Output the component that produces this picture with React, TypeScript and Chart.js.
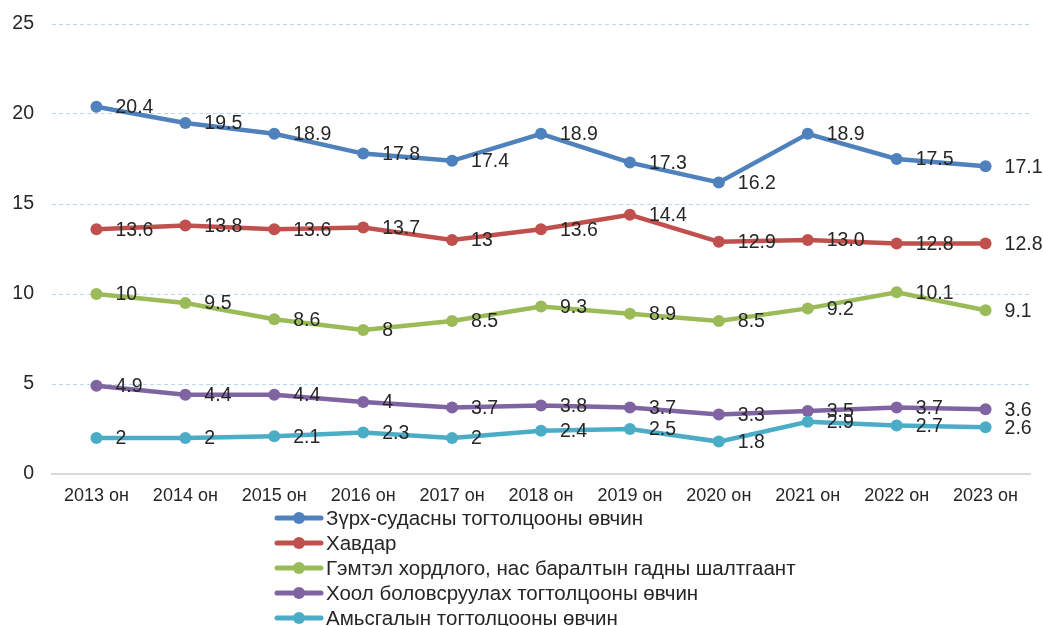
import React, { useEffect, useRef } from "react";
import { Chart, registerables } from "chart.js";

Chart.register(...registerables);

const categories = ["2013 он", "2014 он", "2015 он", "2016 он", "2017 он", "2018 он", "2019 он", "2020 он", "2021 он", "2022 он", "2023 он"];

const seriesNames = [
  "Зүрх-судасны тогтолцооны өвчин",
  "Хавдар",
  "Гэмтэл хордлого, нас баралтын гадны шалтгаант",
  "Хоол боловсруулах тогтолцооны өвчин",
  "Амьсгалын тогтолцооны өвчин",
];

const heartValues = [20.4, 19.5, 18.9, 17.8, 17.4, 18.9, 17.3, 16.2, 18.9, 17.5, 17.1];
const cancerValues = [13.6, 13.8, 13.6, 13.7, 13, 13.6, 14.4, 12.9, 13.0, 12.8, 12.8];
const injuryValues = [10, 9.5, 8.6, 8, 8.5, 9.3, 8.9, 8.5, 9.2, 10.1, 9.1];
const digestiveValues = [4.9, 4.4, 4.4, 4, 3.7, 3.8, 3.7, 3.3, 3.5, 3.7, 3.6];
const respiratoryValues = [2, 2, 2.1, 2.3, 2, 2.4, 2.5, 1.8, 2.9, 2.7, 2.6];

const heartLabels = ["20.4", "19.5", "18.9", "17.8", "17.4", "18.9", "17.3", "16.2", "18.9", "17.5", "17.1"];
const cancerLabels = ["13.6", "13.8", "13.6", "13.7", "13", "13.6", "14.4", "12.9", "13.0", "12.8", "12.8"];
const injuryLabels = ["10", "9.5", "8.6", "8", "8.5", "9.3", "8.9", "8.5", "9.2", "10.1", "9.1"];
const digestiveLabels = ["4.9", "4.4", "4.4", "4", "3.7", "3.8", "3.7", "3.3", "3.5", "3.7", "3.6"];
const respiratoryLabels = ["2", "2", "2.1", "2.3", "2", "2.4", "2.5", "1.8", "2.9", "2.7", "2.6"];

const yTicks = [0, 5, 10, 15, 20, 25];

const colors = ["#4F81BD", "#C0504D", "#9BBB59", "#8064A2", "#4BACC6"];

const FONT = "'Liberation Sans', Arial, sans-serif";
const TEXT = "#262626";

const allValues = [heartValues, cancerValues, injuryValues, digestiveValues, respiratoryValues];
const allLabels = [heartLabels, cancerLabels, injuryLabels, digestiveLabels, respiratoryLabels];

const dataLabelPlugin = {
  id: "dataLabels",
  afterDatasetsDraw(chart: any) {
    const ctx = chart.ctx;
    ctx.save();
    ctx.font = `19.5px ${FONT}`;
    ctx.fillStyle = TEXT;
    ctx.textAlign = "left";
    ctx.textBaseline = "middle";
    chart.data.datasets.forEach((ds: any, i: number) => {
      const meta = chart.getDatasetMeta(i);
      meta.data.forEach((pt: any, j: number) => {
        const lbl = ds.valueLabels[j];
        ctx.fillText(lbl, pt.x + 19, pt.y + 1);
      });
    });
    ctx.restore();
  },
};

const legendPlugin = {
  id: "customLegend",
  afterDraw(chart: any) {
    const ctx = chart.ctx;
    ctx.save();
    ctx.font = `20.5px ${FONT}`;
    ctx.textAlign = "left";
    ctx.textBaseline = "middle";
    chart.data.datasets.forEach((ds: any, i: number) => {
      const y = 518 + i * 25;
      ctx.strokeStyle = ds.borderColor;
      ctx.lineWidth = 5;
      ctx.lineCap = "round";
      ctx.beginPath();
      ctx.moveTo(277, y);
      ctx.lineTo(321, y);
      ctx.stroke();
      ctx.fillStyle = ds.borderColor;
      ctx.beginPath();
      ctx.arc(299, y, 6, 0, Math.PI * 2);
      ctx.fill();
      ctx.fillStyle = TEXT;
      ctx.fillText(ds.label, 326, y + 1);
    });
    ctx.restore();
  },
};

export default function App() {
  const ref = useRef<HTMLCanvasElement | null>(null);

  useEffect(() => {
    if (!ref.current) return;
    const chart = new Chart(ref.current, {
      type: "line",
      data: {
        labels: categories,
        datasets: seriesNames.map((name, i) => ({
          label: name,
          data: allValues[i],
          valueLabels: allLabels[i],
          borderColor: colors[i],
          backgroundColor: colors[i],
          pointBackgroundColor: colors[i],
          pointBorderColor: colors[i],
          borderWidth: 4.5,
          pointRadius: 6,
          pointBorderWidth: 0,
          tension: 0,
          order: 4 - i,
        })) as any,
      },
      options: {
        animation: false,
        responsive: true,
        maintainAspectRatio: false,
        layout: { autoPadding: false, padding: { top: 24, right: 13, left: 0, bottom: 0 } },
        plugins: {
          legend: { display: false },
          tooltip: { enabled: false },
        },
        scales: {
          x: {
            offset: true,
            grid: { display: false, drawTicks: false },
            border: { display: true, color: "#D9D9D9", width: 2 },
            ticks: { color: TEXT, font: { family: FONT, size: 18 }, padding: 11, maxRotation: 0 },
            afterFit(scale: any) {
              scale.height = 152;
            },
          },
          y: {
            min: 0,
            max: 25,
            afterBuildTicks(scale: any) {
              scale.ticks = yTicks.map((v) => ({ value: v }));
            },
            grid: {
              drawTicks: false,
              color: (c: any) => (c.tick && c.tick.value === 0 ? "rgba(0,0,0,0)" : "#BDD7EE"),
              lineWidth: 1,
            },
            border: { display: false, dash: [4, 3] },
            ticks: { color: TEXT, font: { family: FONT, size: 19.5, lineHeight: 0.5 }, padding: 18 },
            afterFit(scale: any) {
              scale.width = 52;
            },
          },
        },
      },
      plugins: [dataLabelPlugin, legendPlugin],
    });
    return () => chart.destroy();
  }, []);

  return (
    <div style={{ position: "fixed", left: 0, top: 0, width: 1043, height: 626, background: "#fff" }}>
      <canvas ref={ref} />
    </div>
  );
}
